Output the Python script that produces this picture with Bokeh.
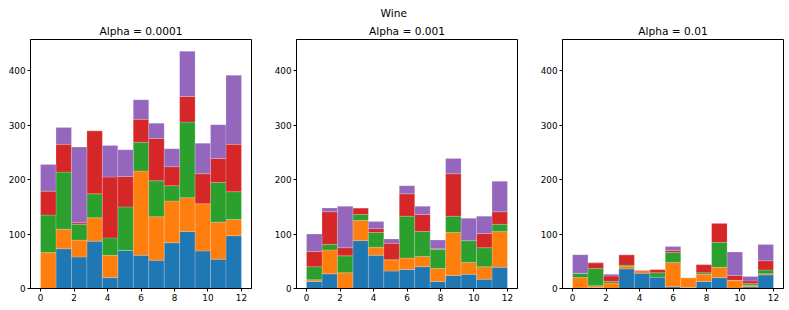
import numpy as np
from bokeh.plotting import figure
from bokeh.layouts import row
from bokeh.models import Range1d, Title, FixedTicker
from bokeh.embed import file_html
from bokeh.resources import INLINE

suptitle = "Wine"
panel_titles = ["Alpha = 0.0001", "Alpha = 0.001", "Alpha = 0.01"]
series_names = ["c0", "c1", "c2", "c3", "c4"]
colors = ["#1f77b4", "#ff7f0e", "#2ca02c", "#d62728", "#9467bd"]
x_ticks = [0, 2, 4, 6, 8, 10, 12]
y_ticks = [0, 100, 200, 300, 400]
n_bins = 13
x_min, x_max = 0, 12

# Alpha = 0.0001 (counts per class, per bin)
a1_c0 = [0, 73, 58, 87, 20, 70, 61, 52, 84, 105, 69, 54, 97]
a1_c1 = [66, 36, 31, 43, 41, 0, 155, 80, 77, 62, 87, 68, 30]
a1_c2 = [69, 105, 29, 44, 32, 80, 53, 66, 28, 139, 0, 73, 51]
a1_c3 = [44, 51, 3, 116, 112, 56, 42, 78, 35, 47, 55, 44, 87]
a1_c4 = [49, 31, 139, 0, 58, 49, 36, 28, 33, 83, 56, 62, 127]

# Alpha = 0.001
a2_c0 = [13, 27, 0, 88, 61, 32, 35, 40, 13, 24, 26, 17, 39]
a2_c1 = [3, 44, 29, 37, 15, 21, 21, 19, 24, 79, 22, 23, 66]
a2_c2 = [24, 10, 31, 11, 27, 0, 77, 46, 35, 30, 40, 35, 13]
a2_c3 = [28, 60, 15, 12, 7, 30, 41, 31, 1, 78, 0, 26, 23]
a2_c4 = [32, 7, 76, 0, 13, 8, 15, 15, 16, 28, 41, 32, 56]

# Alpha = 0.01
a3_c0 = [1, 2, 0, 36, 28, 21, 3, 2, 13, 20, 0, 3, 25]
a3_c1 = [19, 3, 10, 5, 5, 0, 45, 18, 13, 19, 15, 3, 2]
a3_c2 = [8, 32, 3, 2, 0, 8, 18, 0, 3, 46, 0, 3, 7]
a3_c3 = [0, 10, 10, 19, 0, 6, 4, 0, 15, 35, 9, 5, 17]
a3_c4 = [34, 1, 3, 0, 1, 0, 7, 0, 0, 0, 43, 8, 30]

panels = [
    [a1_c0, a1_c1, a1_c2, a1_c3, a1_c4],
    [a2_c0, a2_c1, a2_c2, a2_c3, a2_c4],
    [a3_c0, a3_c1, a3_c2, a3_c3, a3_c4],
]

edges = np.linspace(x_min, x_max, n_bins + 1)
centers = (edges[:-1] + edges[1:]) / 2
bin_w = edges[1] - edges[0]

all_tops = [np.sum(np.array(p), axis=0).max() for p in panels]
y_top = max(all_tops) * 1.05
pad = (x_max - x_min) * 0.05

FONT = "DejaVu Sans"
widths = [266, 266, 256]
right_borders = [15, 15, 5]
figs = []
for i, (data, ttl) in enumerate(zip(panels, panel_titles)):
    p = figure(width=widths[i], height=308, output_backend="svg", toolbar_location=None,
               x_range=Range1d(x_min - pad, x_max + pad), y_range=Range1d(0, y_top),
               min_border_left=30, min_border_right=right_borders[i],
               min_border_top=39, min_border_bottom=20, title=None)
    src = {"x": centers}
    for name, vals in zip(series_names, data):
        src[name] = vals
    p.vbar_stack(series_names, x="x", width=bin_w, source=src, fill_color=colors,
                 line_color="white", line_alpha=0.3, line_width=0.6)
    t = Title(text=ttl, text_font=FONT, text_font_size="10.6px", text_font_style="normal",
              align="center", text_color="black", standoff=6)
    p.add_layout(t, "above")
    if i == 1:
        st = Title(text=suptitle, text_font=FONT, text_font_size="10.6px",
                   text_font_style="normal", align="left", offset=84,
                   text_color="black", standoff=2)
        p.add_layout(st, "above")
    p.xgrid.visible = False
    p.ygrid.visible = False
    p.outline_line_color = "black"
    p.outline_line_width = 1
    p.outline_line_alpha = 1
    for ax in (p.xaxis[0], p.yaxis[0]):
        ax.axis_line_color = "black"
        ax.major_tick_line_color = "black"
        ax.major_tick_in = 0
        ax.major_tick_out = 3
        ax.minor_tick_line_color = None
        ax.major_label_text_font = FONT
        ax.major_label_text_font_size = "8.8px"
        ax.major_label_text_color = "black"
        ax.major_label_standoff = 2
    p.xaxis[0].ticker = FixedTicker(ticks=x_ticks)
    p.yaxis[0].ticker = FixedTicker(ticks=y_ticks)
    p.background_fill_color = "white"
    p.border_fill_color = "white"
    figs.append(p)

layout = row(*figs, spacing=0)
open("out.html", "w").write(file_html(layout, INLINE))
